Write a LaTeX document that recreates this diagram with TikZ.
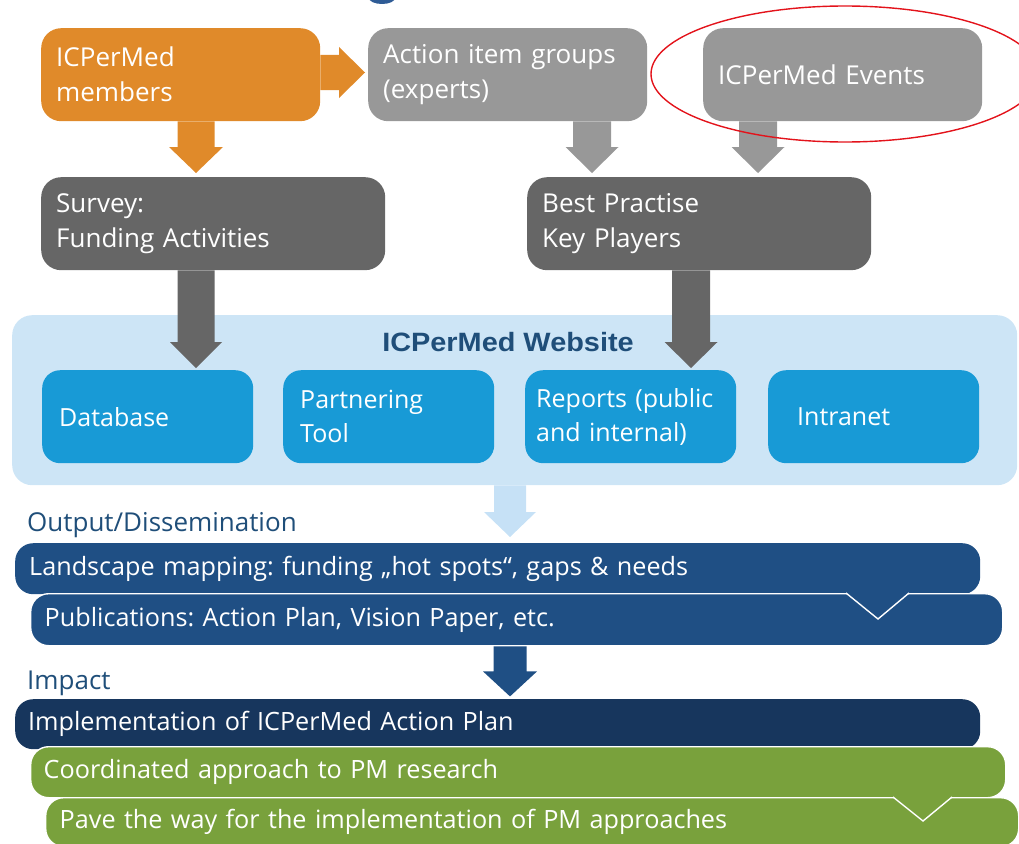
\documentclass[tikz,border=0pt]{standalone}
\usepackage{fontspec}
\setmainfont{Open Sans}
\newfontfamily\webfont[FakeStretch=1.09]{Liberation Sans}
\usetikzlibrary{calc}
\frenchspacing
\definecolor{orange1}{HTML}{E08A2A}
\definecolor{gray1}{HTML}{989898}
\definecolor{gray2}{HTML}{666666}
\definecolor{webbg}{HTML}{CDE5F6}
\definecolor{webbox}{HTML}{189AD6}
\definecolor{webtitle}{HTML}{1F4E79}
\definecolor{outblue}{HTML}{1F4F84}
\definecolor{navy}{HTML}{17365D}
\definecolor{green1}{HTML}{79A13C}
\definecolor{lightarrow}{HTML}{C6E1F6}
\definecolor{topfrag}{HTML}{2F5C96}
\definecolor{ringred}{HTML}{E3131B}
\newcommand\blockdown[6]{%
  \fill[#1] let \p1=#2, \p2=#3 in
   (\x2-#4,\y1) -- (\x2+#4,\y1) -- (\x2+#4,\y2+#6) -- (\x2+#5,\y2+#6)
   -- (\x2,\y2) -- (\x2-#5,\y2+#6) -- (\x2-#4,\y2+#6) -- cycle;}
\newcommand\blockright[6]{%
  \fill[#1] let \p1=#2, \p2=#3 in
   (\x1,\y2+#4) -- (\x2-#6,\y2+#4) -- (\x2-#6,\y2+#5) -- (\x2,\y2)
   -- (\x2-#6,\y2-#5) -- (\x2-#6,\y2-#4) -- (\x1,\y2-#4) -- cycle;}
\tikzset{
  box/.style={rounded corners=20pt, inner xsep=15pt, inner ysep=0pt,
    minimum height=93pt, text=white, align=left, anchor=north west,
    font=\fontsize{26}{35}\selectfont},
  wbox/.style={box, fill=webbox, rounded corners=18pt, inner xsep=17pt,
    text width=177pt, font=\fontsize{25}{34}\selectfont},
  bar/.style={rounded corners=18pt, inner xsep=14pt, inner ysep=0pt,
    text=white, align=left, anchor=north west, text width=#1,
    font=\fontsize{25.2}{30}\selectfont},
  barline/.style={draw=white, line width=1.4pt},
  heading/.style={anchor=west, text=webtitle, inner sep=0pt,
    font=\fontsize{26}{30}\selectfont},
}
\begin{document}
\begin{tikzpicture}[x=1pt,y=-1pt]
\useasboundingbox (0,0) rectangle (1019,843);
% fragment of a title above the picture
\fill[topfrag] (382,-2) ellipse [x radius=13, y radius=6];

% top boxes
\node[box, fill=orange1, text width=249pt] (mem) at (41,28) {ICPerMed\\members};
\node[box, fill=gray1, text width=249pt] (aig) at (368,28) {Action item groups\\(experts)};
\node[box, fill=gray1, text width=249pt] (evt) at (703,28) {ICPerMed Events};
\node[box, fill=gray2, text width=314pt] (surv) at (41,177) {Survey:\\Funding Activities};
\node[box, fill=gray2, text width=314pt] (best) at (527,177) {Best Practise\\Key Players};

% arrow columns
\coordinate (c1) at (196,0);
\coordinate (c2) at (592,0);
\coordinate (c3) at (758,0);
\coordinate (c4) at (691,0);
\coordinate (c5) at (510,0);
\coordinate (r1) at (0,72.5);

\blockright{orange1}{(mem.east |- r1)}{($(aig.west |- r1)+(-3,0)$)}{17.5pt}{25.5pt}{26pt}
\blockdown{orange1}{(c1 |- mem.south)}{($(c1 |- surv.north)+(0,-4)$)}{18.5pt}{27pt}{26pt}
\blockdown{gray1}{(c2 |- aig.south)}{($(c2 |- best.north)+(0,-4)$)}{19pt}{26.5pt}{26pt}
\blockdown{gray1}{(c3 |- evt.south)}{($(c3 |- best.north)+(0,-4)$)}{19pt}{26.5pt}{26pt}

% website
\node[fill=webbg, rounded corners=20pt, minimum width=1005pt, minimum height=170pt,
  anchor=north west, inner sep=0pt] (web) at (12,315) {};
\node[font=\webfont\bfseries\fontsize{26.5}{30}\selectfont, text=webtitle, inner sep=0pt]
  (webt) at (508,342) {ICPerMed Website};
\node[wbox] (db) at (42,370) {Database};
\node[wbox] (pt) at (283,370) {Partnering\\Tool};
\node[wbox] (rep) at (525,370) {\hspace*{-6pt}Reports (public\\\hspace*{-6pt}and internal)};
\node[wbox] (intra) at (768,370) {\hspace*{12pt}Intranet};

\blockdown{gray2}{(c1 |- surv.south)}{($(c1 |- db.north)+(0,-2)$)}{18.5pt}{26pt}{26pt}
\blockdown{gray2}{(c4 |- best.south)}{($(c4 |- rep.north)+(0,-2)$)}{19pt}{26.5pt}{26pt}

% output / dissemination
\node[heading] (outh) at (27,525) {Output/Dissemination};
\node[bar=937pt, fill=outblue, minimum height=51pt] (land) at (15,543)
  {Landscape mapping: funding „hot spots“, gaps \& needs};
\blockdown{lightarrow}{(c5 |- web.south)}{($(c5 |- land.north)+(0,-6)$)}{16pt}{26pt}{25pt}
\node[bar=944pt, fill=outblue, barline, minimum height=52pt] (pub) at (30,593)
  {Publications: Action Plan, Vision Paper, etc.};
\fill[outblue] (845,591.5) -- (910,591.5) -- (878,619) -- cycle;
\draw[white, line width=1.4pt] (846,593) -- (878,619) -- (909,593);

% impact
\blockdown{outblue}{(c5 |- pub.south)}{($(c5 |- pub.south)+(0,50)$)}{16.5pt}{27pt}{25pt}
\node[heading] (imph) at (27,683) {Impact};
\node[bar=939pt, fill=navy, inner xsep=13pt, minimum height=50pt] (impl) at (15,699)
  {Implementation of ICPerMed Action Plan};
\node[bar=949pt, fill=green1, barline, inner xsep=13pt, minimum height=51pt] (coord) at (30,746)
  {Coordinated approach to PM research};
\node[bar=945pt, fill=green1, barline, minimum height=49pt] (pave) at (45,797)
  {Pave the way for the implementation of PM approaches};
\fill[green1] (892,795.5) -- (953,795.5) -- (923,821) -- cycle;
\draw[white, line width=1.4pt] (893,797) -- (923,821) -- (952,797);

% highlight ring
\draw[ringred, line width=1.4pt] (845,74) ellipse [x radius=194, y radius=68];
\end{tikzpicture}
\end{document}
